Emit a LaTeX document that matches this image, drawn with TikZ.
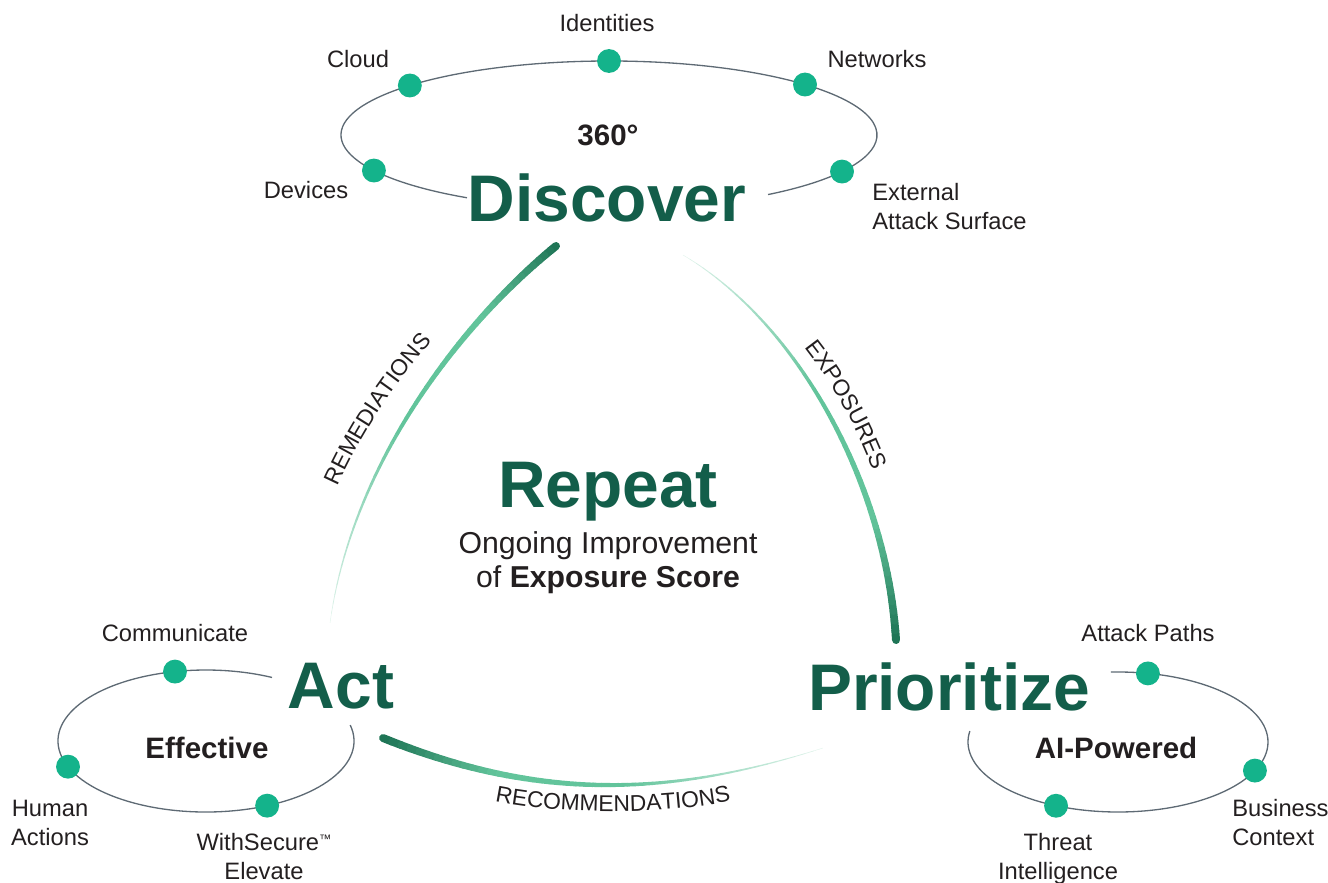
\documentclass[tikz,border=0pt]{standalone}
\usepackage{fontspec}
\setmainfont{Liberation Sans}
\usetikzlibrary{decorations.text}

\definecolor{phasegreen}{HTML}{135E4A}
\definecolor{dotgreen}{HTML}{14B38B}
\definecolor{ringgray}{HTML}{5E6A74}
\definecolor{inkblack}{HTML}{231F20}
\definecolor{arcdark}{HTML}{1F7556}
\definecolor{arcmint}{HTML}{62C49B}

\newcommand{\flowfont}{\fontsize{13}{13}\selectfont}
\newcommand{\taperarc}[4]{%
  \foreach \segi in {0,...,49}{%
    \pgfmathsetmacro\segs{\segi/50}%
    \pgfmathsetmacro\sege{(\segi+1)/50}%
    \pgfmathsetmacro\mixa{min(\segs/0.25,1)*100}%
    \pgfmathsetmacro\mixc{100-max(\segs-0.55,0)/0.45*85}%
    \pgfmathsetmacro\segw{(0.3+7.7*(1-\segs))*0.5669}%
    \path #1 .. controls #2 and #3 .. #4 coordinate[pos=\segs] (ta) coordinate[pos=\sege] (tb);
    \draw[line width=\segw pt, line cap=round, color=arcmint!\mixa!arcdark!\mixc!white] (ta) -- (tb);
  }%
}

\tikzset{
  phase/.style={text=phasegreen, inner sep=0pt, font=\fontsize{37.5}{40}\selectfont\bfseries},
  ring/.style={draw=ringgray, line width=0.75pt},
  dot/.style={circle, fill=dotgreen, minimum size=13.6pt, inner sep=0pt},
  lbl/.style={text=inkblack, inner sep=0pt, align=center, font=\fontsize{13.5}{16}\selectfont},
  core/.style={text=inkblack, inner sep=0pt, font=\fontsize{16.8}{19}\selectfont\bfseries},
  body/.style={text=inkblack, inner sep=0pt, align=center, font=\fontsize{17.2}{19.3}\selectfont},
  flow/.style={decorate, decoration={text along path, text align=center, text color=inkblack, text={#1}}}
}

\begin{document}
\begin{tikzpicture}[x=0.02cm, y=-0.02cm]
  \useasboundingbox (0,0) rectangle (1328,882);

  \coordinate (topc) at (609,135);
  \coordinate (leftc) at (206,741);
  \coordinate (rightc) at (1118,742);

  \draw[ring] (topc) ++(122:268 and 74) arc[start angle=122, end angle=413.6, x radius=268, y radius=74];
  \draw[ring] (leftc) ++(-13:148 and 71) arc[start angle=-13, end angle=296.5, x radius=148, y radius=71];
  \draw[ring] (rightc) ++(267.3:150 and 70) arc[start angle=267.3, end angle=549, x radius=150, y radius=70];

  \path (topc) ++(-138:268 and 74) node[dot] (dcloud) {};
  \path (topc) ++(-90:268 and 74) node[dot] (didentities) {};
  \path (topc) ++(-43:268 and 74) node[dot] (dnetworks) {};
  \path (topc) ++(151.3:268 and 74) node[dot] (ddevices) {};
  \path (topc) ++(29.6:268 and 74) node[dot] (dexternal) {};
  \path (leftc) ++(-102.1:148 and 71) node[dot] (dcommunicate) {};
  \path (leftc) ++(158.8:148 and 71) node[dot] (dhuman) {};
  \path (leftc) ++(65.6:148 and 71) node[dot] (delevate) {};
  \path (rightc) ++(-78.5:150 and 70) node[dot] (dpaths) {};
  \path (rightc) ++(24.1:150 and 70) node[dot] (dbusiness) {};
  \path (rightc) ++(114.4:150 and 70) node[dot] (dthreat) {};

  \node[lbl, anchor=base] (lidentities) at (607,32) {Identities};
  \node[lbl, anchor=base] (lcloud) at (358,68) {Cloud};
  \node[lbl, anchor=base] (lnetworks) at (877,68) {Networks};
  \node[lbl, anchor=base] (ldevices) at (306,198) {Devices};
  \node[lbl, anchor=base west, align=left] (lexternal) at (872,229) {External\\Attack Surface};
  \node[lbl, anchor=base] (lcommunicate) at (175,641) {Communicate};
  \node[lbl, anchor=base] (lhuman) at (50,845) {Human\\Actions};
  \node[lbl, anchor=base] (lelevate) at (264,879) {WithSecure\raisebox{4.3pt}{\fontsize{7}{7}\selectfont ™}\\Elevate};
  \node[lbl, anchor=base] (lpaths) at (1148,641) {Attack Paths};
  \node[lbl, anchor=base west, align=left] (lbusiness) at (1232,845) {Business\\Context};
  \node[lbl, anchor=base] (lthreat) at (1058,879) {Threat\\Intelligence};

  \node[core, anchor=base] (full) at (608,145) {360°};
  \node[core, anchor=base] (effective) at (207,758) {Effective};
  \node[core, anchor=base] (aipowered) at (1116,758) {AI-Powered};

  \node[phase, anchor=base] (discover) at (607,221) {Discover};
  \node[phase, anchor=base] (act) at (341,708) {Act};
  \node[phase, anchor=base] (prioritize) at (949,710) {Prioritize};
  \node[phase, anchor=base] (repeat) at (608,507) {Repeat};
  \node[body, anchor=base] (ongoing) at (608,587) {Ongoing Improvement\\of \textbf{Exposure Score}};

  \coordinate (remtop) at (556,246);
  \coordinate (remend) at (330,623);
  \coordinate (expbot) at (896,640);
  \coordinate (expend) at (683,255);
  \coordinate (recleft) at (383,738);
  \coordinate (recend) at (823,748);

  \taperarc{(remtop)}{(462,322)}{(352,463)}{(remend)}
  \taperarc{(expbot)}{(886,480)}{(795,321)}{(expend)}
  \taperarc{(recleft)}{(536,800)}{(666,798)}{(recend)}

  \path[flow={|\flowfont|REMEDIATIONS}] (328,508) .. controls (356.5,439.2) and (396.5,377.8) .. (448,324);
  \path[flow={|\flowfont|EXPOSURES}] (788.6,328) .. controls (831,377) and (861.8,432.4) .. (881.4,494);
  \path[flow={|\flowfont|RECOMMENDATIONS}] (478,797) .. controls (548,816) and (678,816) .. (748,797);
\end{tikzpicture}
\end{document}
